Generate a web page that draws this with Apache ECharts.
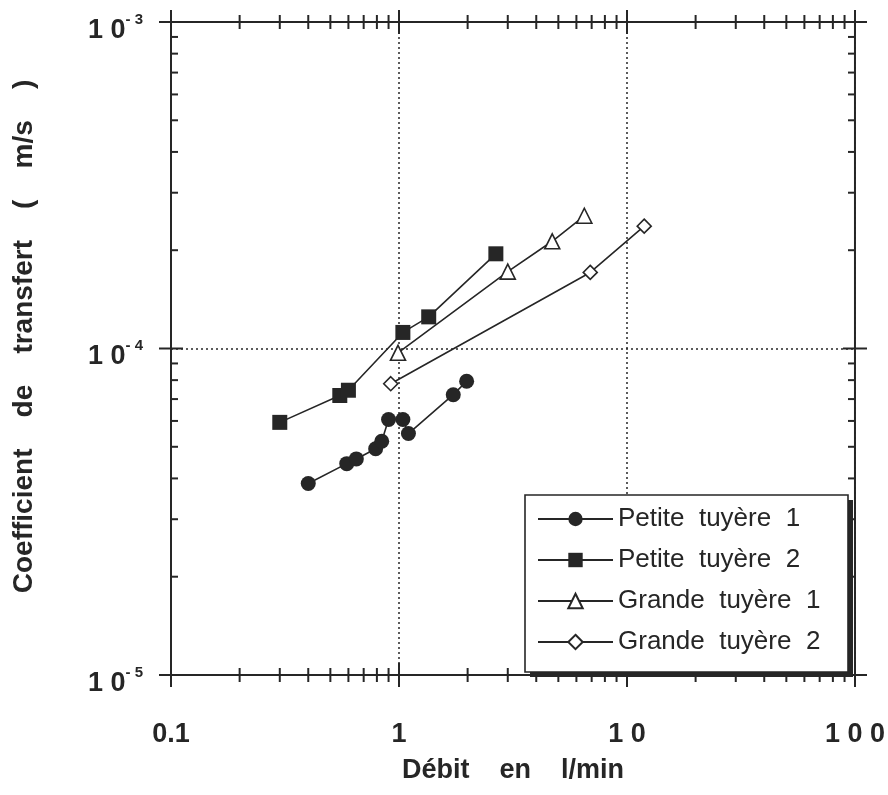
<!DOCTYPE html>
<html>
<head>
<meta charset="utf-8">
<script src="https://cdn.jsdelivr.net/npm/echarts@6/dist/echarts.min.js"></script>
<style>
  html, body { margin: 0; padding: 0; background: #fff; }
  #chart { width: 888px; height: 795px; }
</style>
</head>
<body>
<div id="chart"></div>
<script>
// ---- data ----
const seriesNames = ['Petite  tuyère  1', 'Petite  tuyère  2', 'Grande  tuyère  1', 'Grande  tuyère  2'];

const petite1X = [0.40, 0.59, 0.65, 0.79, 0.84, 0.90, 1.04, 1.10, 1.73, 1.98];
const petite1Y = [3.86e-5, 4.44e-5, 4.59e-5, 4.93e-5, 5.20e-5, 6.06e-5, 6.06e-5, 5.49e-5, 7.22e-5, 7.94e-5];

const petite2X = [0.30, 0.55, 0.60, 1.04, 1.35, 2.66];
const petite2Y = [5.94e-5, 7.18e-5, 7.45e-5, 1.12e-4, 1.25e-4, 1.95e-4];

const grande1X = [0.99, 3.0, 4.7, 6.5];
const grande1Y = [9.7e-5, 1.72e-4, 2.13e-4, 2.55e-4];

const grande2X = [0.92, 6.9, 11.9];
const grande2Y = [7.8e-5, 1.71e-4, 2.37e-4];

// ---- axes ----
const xMin = 0.1, xMax = 100;
const yMin = 1e-5, yMax = 1e-3;
const xTickLabels = ['0.1', '1', '1 0', '1 0 0'];       // exponents -1..2
const yTickExponents = ['- 5', '- 4', '- 3'];          // exponents -5..-3
const xMajorTicks = [0.1, 1, 10, 100];
const xMinorTicks = [0.2, 0.3, 0.4, 0.5, 0.6, 0.7, 0.8, 0.9,
                     2, 3, 4, 5, 6, 7, 8, 9,
                     20, 30, 40, 50, 60, 70, 80, 90];
const yMajorTicks = [1e-5, 1e-4, 1e-3];
const yMinorTicks = [2e-5, 3e-5, 4e-5, 5e-5, 6e-5, 7e-5, 8e-5, 9e-5,
                     2e-4, 3e-4, 4e-4, 5e-4, 6e-4, 7e-4, 8e-4, 9e-4];

const xName = 'Débit    en    l/min';
const yName = 'Coefficient    de    transfert    (    m/s    )';

// ---- build ----
function zip(xs, ys) { return xs.map((x, i) => [x, ys[i]]); }

const INK = '#262626';
const FONT = '"Liberation Sans", Arial, Helvetica, sans-serif';

const tickData = []
  .concat(xMinorTicks.map(v => [v, yMin, 0]))
  .concat(xMajorTicks.map(v => [v, yMin, 1]))
  .concat(yMinorTicks.map(v => [xMin, v, 2]))
  .concat(yMajorTicks.map(v => [xMin, v, 3]));

function seg(x1, y1, x2, y2) {
  return { type: 'line', shape: { x1, y1, x2, y2 }, style: { stroke: INK, lineWidth: 2 } };
}

function renderTicks(params, api) {
  const kind = api.value(2);
  const ch = [];
  if (kind < 2) {
    const v = api.value(0);
    const b = api.coord([v, yMin]);
    const t = api.coord([v, yMax]);
    const h = kind === 1 ? 12 : 7;
    ch.push(seg(b[0], b[1] - h, b[0], b[1] + h));
    ch.push(seg(t[0], t[1] - h, t[0], t[1] + h));
  } else {
    const v = api.value(1);
    const l = api.coord([xMin, v]);
    const r = api.coord([xMax, v]);
    if (kind === 3) {
      ch.push(seg(l[0] - 12, l[1], l[0] + 12, l[1]));
      ch.push(seg(r[0] - 12, r[1], r[0] + 12, r[1]));
    } else {
      ch.push(seg(l[0], l[1], l[0] + 7, l[1]));
      ch.push(seg(r[0] - 7, r[1], r[0], r[1]));
    }
  }
  return { type: 'group', children: ch };
}

const lineStyle = { color: INK, width: 1.6 };

const option = {
  backgroundColor: '#fff',
  animation: false,
  grid: {
    left: 171, right: 33, top: 22, bottom: 120,
    show: true, borderColor: INK, borderWidth: 2, backgroundColor: 'transparent'
  },
  // legend frame with a solid drop shadow
  graphic: [
    { type: 'rect', z: 10, silent: true, shape: { x: 530, y: 500, width: 323, height: 177 }, style: { fill: INK } },
    { type: 'rect', z: 10, silent: true, shape: { x: 525, y: 495, width: 323, height: 177 }, style: { fill: '#fff', stroke: INK, lineWidth: 1.6 } }
  ],
  xAxis: {
    type: 'log', logBase: 10, min: xMin, max: xMax,
    name: xName, nameLocation: 'middle', nameGap: 82,
    nameTextStyle: { fontFamily: FONT, fontSize: 27, fontWeight: 'bold', color: INK },
    axisLine: { show: true, lineStyle: { color: INK, width: 2 } },
    axisTick: { show: false },
    axisLabel: {
      margin: 46, fontFamily: FONT, fontSize: 27, fontWeight: 'bold', color: INK,
      formatter: v => xTickLabels[Math.round(Math.log10(v)) + 1]
    },
    splitLine: { show: true, lineStyle: { color: INK, width: 1.5, type: [2, 3] } }
  },
  yAxis: {
    type: 'log', logBase: 10, min: yMin, max: yMax,
    name: yName, nameLocation: 'middle', nameGap: 133,
    nameTextStyle: { fontFamily: FONT, fontSize: 28, fontWeight: 'bold', color: INK, padding: [0, 0, 0, 24] },
    axisLine: { show: true, lineStyle: { color: INK, width: 2 } },
    axisTick: { show: false },
    axisLabel: {
      margin: 28, color: INK, padding: [12, 0, 0, 0],
      formatter: v => '{b|1 0}{s|' + yTickExponents[Math.round(Math.log10(v)) + 5] + '}',
      rich: {
        b: { fontFamily: FONT, fontSize: 27, fontWeight: 'bold', color: INK, lineHeight: 32, verticalAlign: 'bottom' },
        s: { fontFamily: FONT, fontSize: 15, fontWeight: 'bold', color: INK, lineHeight: 15, verticalAlign: 'top' }
      }
    },
    splitLine: { show: true, lineStyle: { color: INK, width: 1.5, type: [2, 3] } }
  },
  legend: {
    orient: 'vertical',
    left: 525, top: 496, z: 12,
    data: seriesNames,
    itemWidth: 75, itemHeight: 18, itemGap: 15,
    padding: [10, 20, 16, 12],
    backgroundColor: 'transparent', borderWidth: 0,
    textStyle: { fontFamily: FONT, fontSize: 26, color: INK },
    selectedMode: false
  },
  series: [
    {
      name: seriesNames[0], type: 'line', data: zip(petite1X, petite1Y),
      symbol: 'circle', symbolSize: 15,
      itemStyle: { color: INK, borderWidth: 0 }, lineStyle
    },
    {
      name: seriesNames[1], type: 'line', data: zip(petite2X, petite2Y),
      symbol: 'rect', symbolSize: 15,
      itemStyle: { color: INK, borderWidth: 0 }, lineStyle
    },
    {
      name: seriesNames[2], type: 'line', data: zip(grande1X, grande1Y),
      symbol: 'triangle', symbolSize: 15,
      itemStyle: { color: '#fff', borderColor: INK, borderWidth: 1.6 }, lineStyle
    },
    {
      name: seriesNames[3], type: 'line', data: zip(grande2X, grande2Y),
      symbol: 'diamond', symbolSize: 14,
      itemStyle: { color: '#fff', borderColor: INK, borderWidth: 1.6 }, lineStyle
    },
    {
      type: 'custom', name: 'ticks', silent: true, z: 3, clip: false,
      data: tickData, renderItem: renderTicks
    }
  ]
};

const chart = echarts.init(document.getElementById('chart'), null, { renderer: 'canvas' });
chart.setOption(option);
</script>
</body>
</html>
